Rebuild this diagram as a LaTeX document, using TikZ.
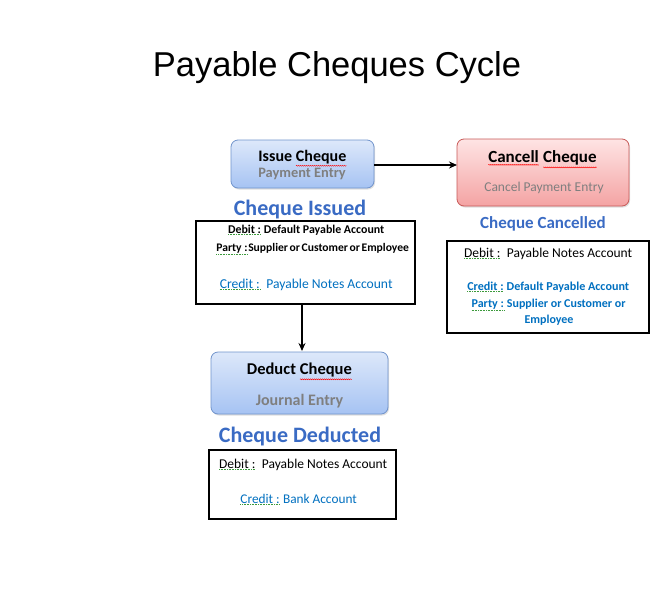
\documentclass[tikz,border=0pt]{standalone}
\usepackage{fontspec}
\setmainfont{Carlito}
\newfontfamily\titlefont{Liberation Sans}
\usetikzlibrary{arrows.meta,shadows,decorations.pathmorphing}
\definecolor{cblue}{HTML}{0070C0}
\definecolor{hblue}{HTML}{3A6BC4}
\definecolor{sgray}{HTML}{7F7F7F}
\definecolor{bxtop}{HTML}{DDE8FA}
\definecolor{bxbot}{HTML}{A6C3F3}
\definecolor{bxdraw}{HTML}{7194CC}
\definecolor{rdtop}{HTML}{FEE4E4}
\definecolor{rdbot}{HTML}{F4A3A3}
\definecolor{rddraw}{HTML}{C85A58}
\definecolor{sqgreen}{HTML}{3C9A3C}
\newcommand\gsq[1]{\tikz[baseline=(q.base)]{\node[inner sep=0pt,outer sep=0pt](q){#1};\draw[sqgreen,densely dotted,line width=0.6pt] ([yshift=-1.6pt]q.south west)--([yshift=-1.6pt]q.south east);}}
\newcommand\rsq[1]{\tikz[baseline=(q.base)]{\node[inner sep=0pt,outer sep=0pt](q){#1};\draw[red,line width=0.45pt,decorate,decoration={snake,amplitude=0.5pt,segment length=2pt}] ([yshift=-2.2pt]q.south west)--([yshift=-2.2pt]q.south east);}}
\tikzset{
  bluebox/.style={draw=bxdraw,line width=0.8pt,rounded corners=7pt,top color=bxtop,bottom color=bxbot,drop shadow={opacity=0.25,shadow xshift=1pt,shadow yshift=-1.5pt}},
  redbox/.style={draw=rddraw,line width=0.8pt,rounded corners=7pt,top color=rdtop,bottom color=rdbot,drop shadow={opacity=0.25,shadow xshift=1pt,shadow yshift=-1.5pt}},
  plainbox/.style={draw=black,line width=1.1pt},
  txt/.style={inner sep=0pt,anchor=base},
  head/.style={txt,text=hblue,font=\bfseries\fontsize{22}{24}\selectfont},
  arr/.style={line width=1.7pt,-{Stealth[length=8pt,width=7pt]}}
}
\begin{document}
\begin{tikzpicture}[x=1pt,y=-1pt]
\useasboundingbox[fill=white] (0,0) rectangle (669,595);
% title
\node[txt,font=\titlefont\fontsize{34.5}{36}\selectfont] (title) at (337,76) {Payable Cheques Cycle};
% boxes
\path[bluebox] (231,140) rectangle (374,188);
\coordinate (issueR) at (374,165);
\node[txt,font=\bfseries\fontsize{16}{18}\selectfont] (issue) at (302.5,161) {Issue \rsq{Cheque}};
\node[txt,text=sgray,font=\bfseries\fontsize{14.4}{16}\selectfont] (pay) at (302,177) {Payment Entry};
\path[redbox] (457,139) rectangle (629,206);
\coordinate (cancelL) at (457,165);
\node[txt,font=\bfseries\fontsize{17}{19}\selectfont] (cancel) at (542.5,162.5) {\rsq{Cancell} \rsq{Cheque}};
\node[txt,text=sgray,font=\fontsize{13.5}{15}\selectfont] (cpay) at (544,191) {Cancel Payment Entry};
\path[bluebox] (211,352) rectangle (388,414);
\coordinate (deductT) at (302,351);
\node[txt,font=\bfseries\fontsize{16.5}{18}\selectfont] (deduct) at (299.5,374.5) {Deduct \rsq{Cheque}};
\node[txt,text=sgray,font=\bfseries\fontsize{16}{18}\selectfont] (jour) at (299.5,405) {Journal Entry};
% headings
\node[head] (hissued) at (300,215) {Cheque Issued};
\node[head,font=\bfseries\fontsize{17}{19}\selectfont] (hcanc) at (543,228.5) {Cheque Cancelled};
\node[head] (hded) at (300,442) {Cheque Deducted};
% rect 1
\path[plainbox] (196,221) rectangle (415,304);
\coordinate (r1B) at (302,304.5);
\node[txt,font=\bfseries\fontsize{11.9}{13}\selectfont] (d1) at (306,233) {\gsq{Debit :} Default Payable Account};
\node[txt,font=\bfseries\fontsize{11.6}{13}\selectfont,text width=220pt,align=center] (p1) at (312.5,251) {\spaceskip=1.6pt \gsq{Party :}\hspace{0.5pt}Supplier or Customer or Employee};
\node[txt,text=cblue,font=\fontsize{13.6}{15}\selectfont] (c1) at (306,288) {\gsq{Credit :}\ \ Payable Notes Account};
% rect 2
\path[plainbox] (447,241) rectangle (649,333);
\node[txt,font=\fontsize{13.5}{15}\selectfont] (d2) at (548,257) {\gsq{Debit :}\ \ Payable Notes Account};
\node[txt,text=cblue,font=\bfseries\fontsize{12.1}{13}\selectfont] (c2) at (548,290) {\gsq{Credit :} Default Payable Account};
\node[txt,text=cblue,font=\bfseries\fontsize{12}{13}\selectfont] (p2) at (548.5,307) {\gsq{Party :} Supplier or Customer or};
\node[txt,text=cblue,font=\bfseries\fontsize{12}{13}\selectfont] (e2) at (549,323) {Employee};
% rect 3
\path[plainbox] (209,450) rectangle (396,519);
\node[txt,font=\fontsize{13.5}{15}\selectfont] (d3) at (303,468) {\gsq{Debit :}\ \ Payable Notes Account};
\node[txt,text=cblue,font=\fontsize{13.3}{15}\selectfont] (c3) at (298.5,503) {\gsq{Credit :} Bank Account};
% arrows
\draw[arr] (issueR) -- (cancelL);
\draw[arr] (r1B) -- (deductT);
\end{tikzpicture}
\end{document}
